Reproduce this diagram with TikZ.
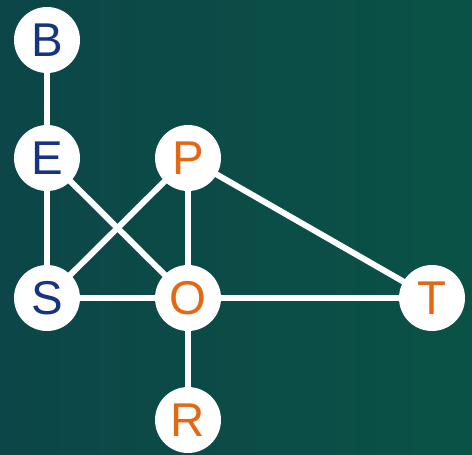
\documentclass[tikz,border=0pt]{standalone}
\usepackage{fontspec}
\setmainfont{Liberation Sans}
\usetikzlibrary{positioning, backgrounds}
\definecolor{boardleft}{RGB}{12, 70, 72}
\definecolor{boardright}{RGB}{10, 82, 70}
\definecolor{lettblue}{RGB}{22, 52, 130}
\definecolor{lettorange}{RGB}{226, 104, 20}

\begin{document}
\begin{tikzpicture}[
    x=0.02cm, y=-0.02cm,
    letter/.style={circle, fill=white, minimum size=1.32cm, inner sep=0pt, font=\fontsize{27}{27}\selectfont},
    blueletter/.style={letter, text=lettblue},
    orangeletter/.style={letter, text=lettorange},
    link/.style={draw=white, line width=3.4pt}
]

% Letters
\node[blueletter] (b) at (47, 40) {B};
\node[blueletter] (e) at (47, 158) {E};
\node[orangeletter] (p) at (188, 158) {P};
\node[blueletter] (s) at (47, 298) {S};
\node[orangeletter] (o) at (188, 298) {O};
\node[orangeletter] (t) at (432, 298) {T};
\node[orangeletter] (r) at (188, 420) {R};

\begin{scope}[on background layer]
% Background
\shade[left color=boardleft, right color=boardright] (0, 0) rectangle (472, 454);

% Links
\draw[link] (b.center) -- (e.center);
\draw[link] (e.center) -- (s.center);
\draw[link] (e.center) -- (o.center);
\draw[link] (s.center) -- (p.center);
\draw[link] (p.center) -- (o.center);
\draw[link] (p.center) -- (t.center);
\draw[link] (s.center) -- (o.center);
\draw[link] (o.center) -- (t.center);
\draw[link] (o.center) -- (r.center);
\end{scope}

\useasboundingbox (0, 0) rectangle (472, 454);

\end{tikzpicture}
\end{document}
